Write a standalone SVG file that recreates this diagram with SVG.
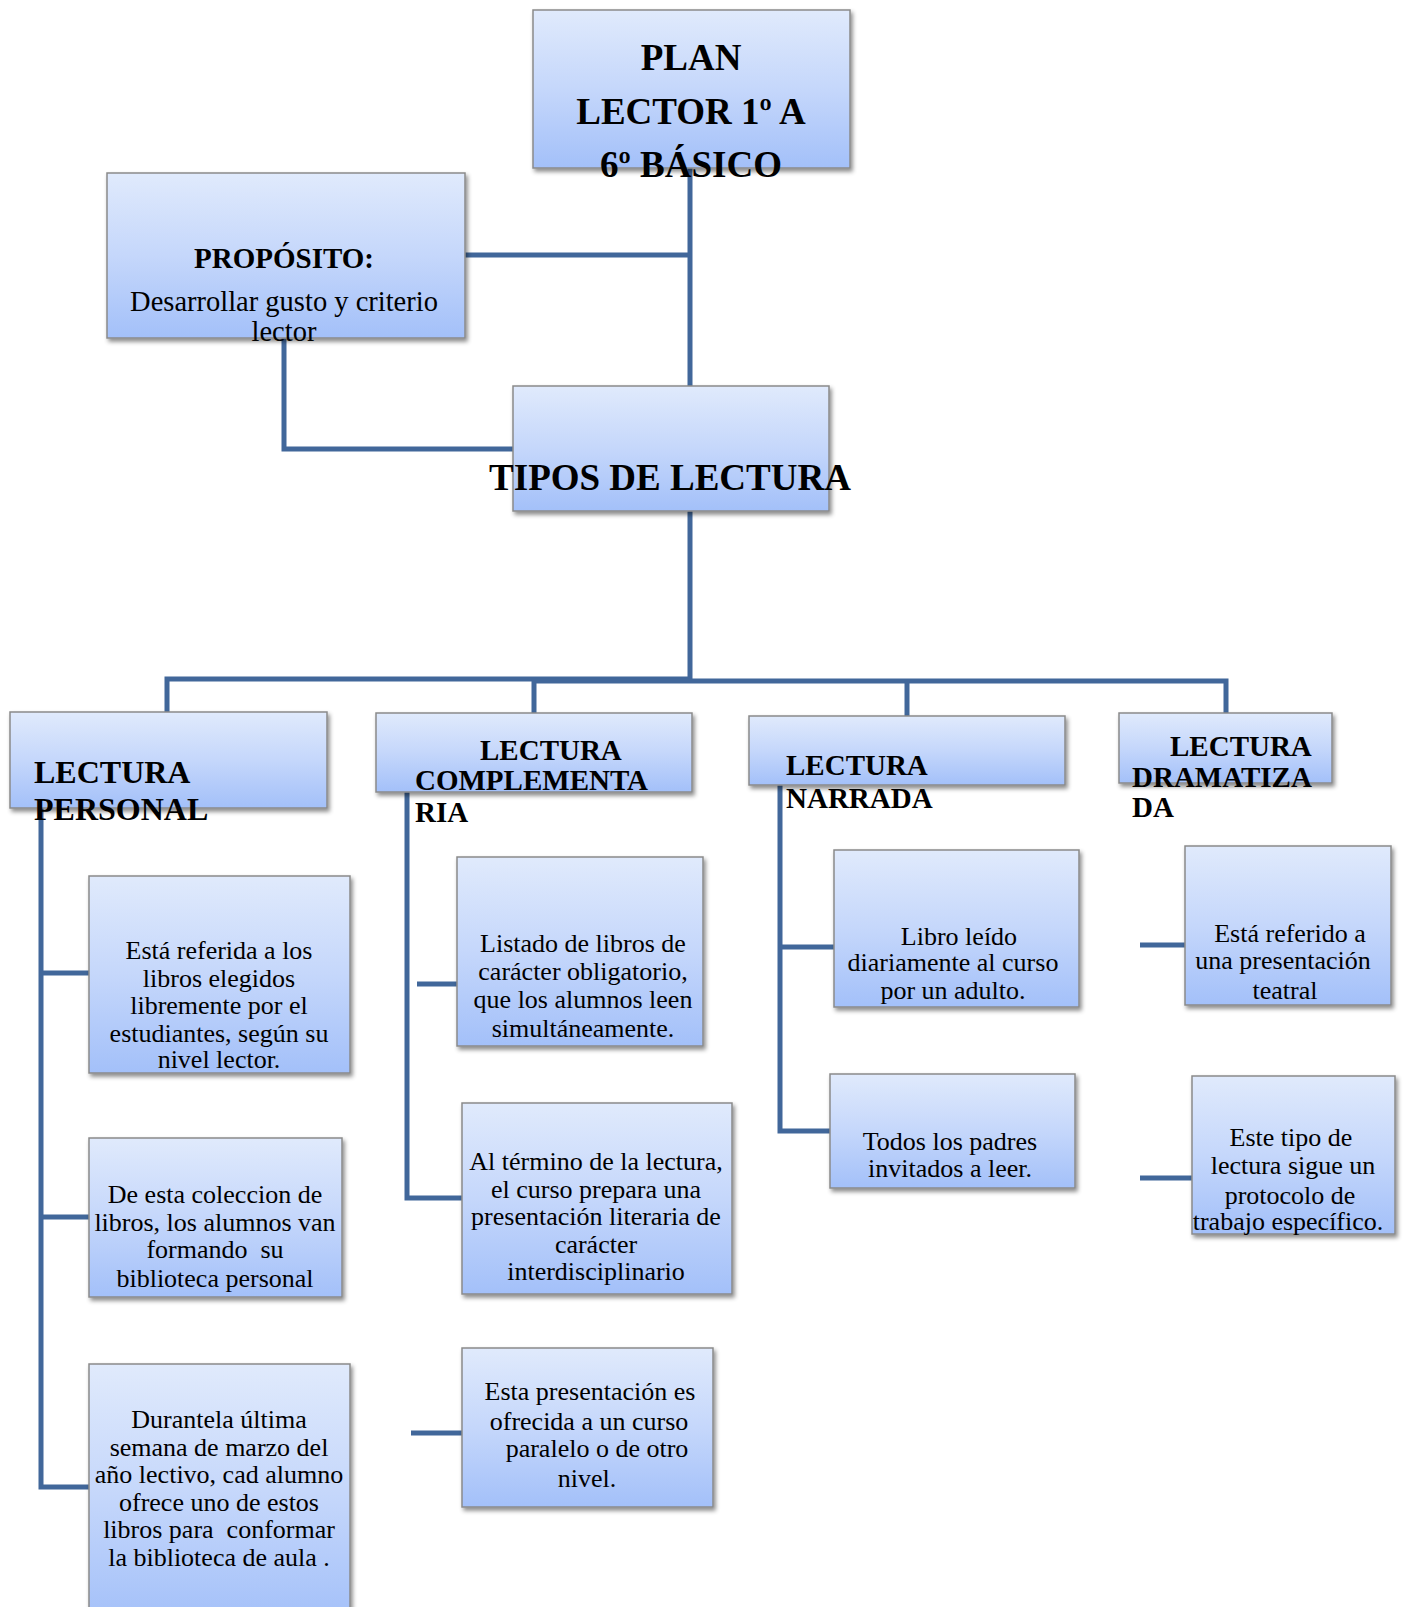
<svg xmlns="http://www.w3.org/2000/svg" width="1405" height="1607" viewBox="0 0 1405 1607">
<defs>
<linearGradient id="g" x1="0" y1="0" x2="0" y2="1">
<stop offset="0" stop-color="#E0EAFC"/>
<stop offset="0.5" stop-color="#C5D7FB"/>
<stop offset="1" stop-color="#A3C0F9"/>
</linearGradient>
<filter id="sh" x="-10%" y="-10%" width="130%" height="130%">
<feDropShadow dx="2" dy="3" stdDeviation="2" flood-color="#000" flood-opacity="0.45"/>
</filter>
<style>
.box{fill:url(#g);stroke:#8A8A8A;stroke-width:1.5;filter:url(#sh)}
.cn path{fill:none;stroke:#41679A;stroke-width:5}
text{font-family:"Liberation Serif","Times New Roman",serif;fill:#000;white-space:pre}
.b{font-weight:bold}
.c{text-anchor:middle}
.s26{font-size:26px}
.s29{font-size:29px}
</style>
</defs>
<rect width="1405" height="1607" fill="#fff"/>
<g id="connectors" class="cn">
<path d="M690,168 V386"/>
<path d="M465,255 H690"/>
<path d="M284,338 V449 H513"/>
<path d="M690,511 V681"/>
<path d="M167,712 V679 H690"/>
<path d="M534,713 V681 H1226 V713"/>
<path d="M907,681 V716"/>
<path d="M41,808 V1487 H89"/>
<path d="M41,973 H89"/>
<path d="M41,1217 H89"/>
<path d="M407,792 V1198 H462"/>
<path d="M417,984 H471"/>
<path d="M411,1433 H470"/>
<path d="M780,785 V1131 H830"/>
<path d="M780,947 H839"/>
<path d="M1140,945 H1191"/>
<path d="M1140,1178 H1196"/>
</g>
<g id="plan">
<rect class="box" x="533" y="10" width="317" height="158"/>
<text class="b c" font-size="37" x="691" y="70">PLAN</text>
<text class="b c" font-size="37" x="691" y="124">LECTOR 1º A</text>
<text class="b c" font-size="37" x="691" y="177">6º BÁSICO</text>
</g>
<g id="proposito">
<rect class="box" x="107" y="173" width="358" height="165"/>
<text class="b c s29" x="284" y="268">PROPÓSITO:</text>
<text class="c" font-size="28.5" x="284" y="311">Desarrollar gusto y criterio</text>
<text class="c" font-size="28.5" x="284" y="341">lector</text>
</g>
<g id="tipos">
<rect class="box" x="513" y="386" width="316" height="125"/>
<text class="b c" font-size="37" x="670" y="490">TIPOS DE LECTURA</text>
</g>
<g id="personal">
<rect class="box" x="10" y="712" width="317" height="96"/>
<text class="b" font-size="32" x="34" y="783">LECTURA</text>
<text class="b" font-size="32" x="34" y="820">PERSONAL</text>
</g>
<g id="complementaria">
<rect class="box" x="376" y="713" width="316" height="79"/>
<text class="b s29" x="480" y="760">LECTURA</text>
<text class="b s29" x="415" y="790">COMPLEMENTA</text>
<text class="b s29" x="415" y="822">RIA</text>
</g>
<g id="narrada">
<rect class="box" x="749" y="716" width="316" height="69"/>
<text class="b s29" x="786" y="775">LECTURA</text>
<text class="b s29" x="786" y="808">NARRADA</text>
</g>
<g id="dramatizada">
<rect class="box" x="1119" y="713" width="213" height="70"/>
<text class="b s29" x="1170" y="756">LECTURA</text>
<text class="b s29" x="1132" y="787">DRAMATIZA</text>
<text class="b s29" x="1132" y="817">DA</text>
</g>
<g id="personal1">
<rect class="box" x="89" y="876" width="261" height="197"/>
<text class="c s26" x="219" y="959">Está referida a los</text>
<text class="c s26" x="219" y="987">libros elegidos</text>
<text class="c s26" x="219" y="1014">libremente por el</text>
<text class="c s26" x="219" y="1042">estudiantes, según su</text>
<text class="c s26" x="219" y="1068">nivel lector.</text>
</g>
<g id="personal2">
<rect class="box" x="89" y="1138" width="253" height="159"/>
<text class="c s26" x="215" y="1203">De esta coleccion de</text>
<text class="c s26" x="215" y="1231">libros, los alumnos van</text>
<text class="c s26" x="215" y="1258">formando  su</text>
<text class="c s26" x="215" y="1287">biblioteca personal</text>
</g>
<g id="personal3">
<rect class="box" x="89" y="1364" width="261" height="260"/>
<text class="c s26" x="219" y="1428">Durantela última</text>
<text class="c s26" x="219" y="1456">semana de marzo del</text>
<text class="c s26" x="219" y="1483">año lectivo, cad alumno</text>
<text class="c s26" x="219" y="1511">ofrece uno de estos</text>
<text class="c s26" x="219" y="1538">libros para  conformar</text>
<text class="c s26" x="219" y="1566">la biblioteca de aula .</text>
</g>
<g id="complementaria1">
<rect class="box" x="457" y="857" width="246" height="189"/>
<text class="c s26" x="583" y="952">Listado de libros de</text>
<text class="c s26" x="583" y="980">carácter obligatorio,</text>
<text class="c s26" x="583" y="1008">que los alumnos leen</text>
<text class="c s26" x="583" y="1037">simultáneamente.</text>
</g>
<g id="complementaria2">
<rect class="box" x="462" y="1103" width="270" height="191"/>
<text class="c s26" x="596" y="1170">Al término de la lectura,</text>
<text class="c s26" x="596" y="1198">el curso prepara una</text>
<text class="c s26" x="596" y="1225">presentación literaria de</text>
<text class="c s26" x="596" y="1253">carácter</text>
<text class="c s26" x="596" y="1280">interdisciplinario</text>
</g>
<g id="complementaria3">
<rect class="box" x="462" y="1348" width="251" height="159"/>
<text class="c s26" x="590" y="1400">Esta presentación es</text>
<text class="c s26" x="589" y="1430">ofrecida a un curso</text>
<text class="c s26" x="597" y="1457">paralelo o de otro</text>
<text class="c s26" x="587" y="1487">nivel.</text>
</g>
<g id="narrada1">
<rect class="box" x="834" y="850" width="245" height="157"/>
<text class="c s26" x="959" y="945">Libro leído</text>
<text class="c s26" x="953" y="971">diariamente al curso</text>
<text class="c s26" x="953" y="999">por un adulto.</text>
</g>
<g id="narrada2">
<rect class="box" x="830" y="1074" width="245" height="114"/>
<text class="c s26" x="950" y="1150">Todos los padres</text>
<text class="c s26" x="950" y="1177">invitados a leer.</text>
</g>
<g id="dramatizada1">
<rect class="box" x="1185" y="846" width="206" height="159"/>
<text class="c s26" x="1290" y="942">Está referido a</text>
<text class="c s26" x="1283" y="969">una presentación</text>
<text class="c s26" x="1285" y="999">teatral</text>
</g>
<g id="dramatizada2">
<rect class="box" x="1192" y="1076" width="203" height="158"/>
<text class="c s26" x="1291" y="1146">Este tipo de</text>
<text class="c s26" x="1293" y="1174">lectura sigue un</text>
<text class="c s26" x="1290" y="1204">protocolo de</text>
<text class="c s26" x="1288" y="1230">trabajo específico.</text>
</g>
</svg>
